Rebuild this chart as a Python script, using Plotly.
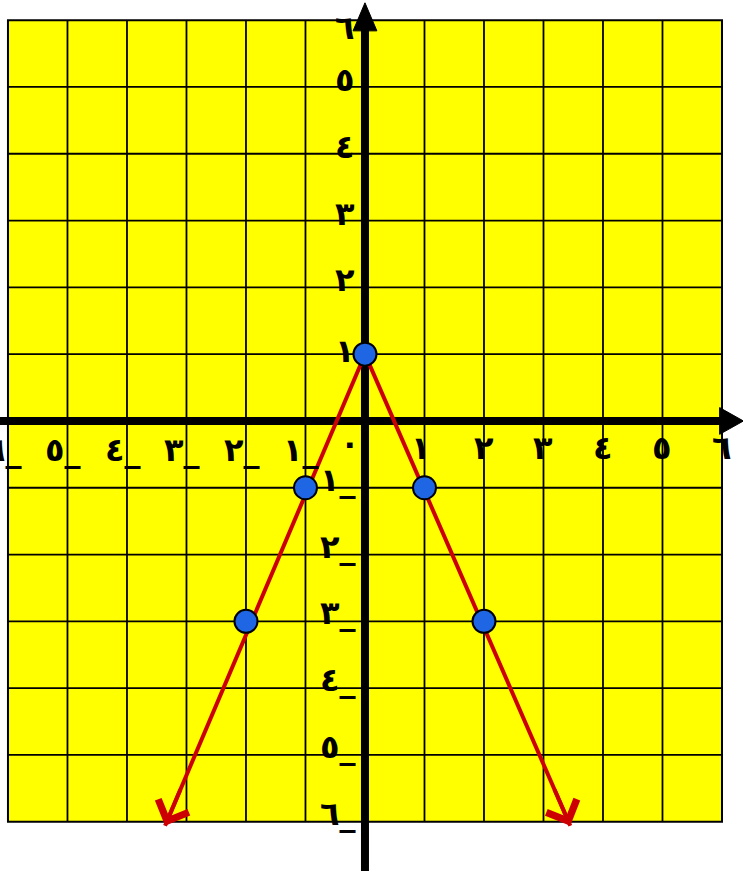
import plotly.graph_objects as go

# ---- data ----
point_x = [-2, -1, 0, 1, 2]
point_y = [-3, -1, 1, -1, -3]
line_x = [-3.36, 0, 3.45]
line_y = [-6.06, 1, -6.06]
ticks = [1, 2, 3, 4, 5, 6]
digits = ["١", "٢", "٣", "٤", "٥", "٦"]
zero_label = "٠"

FONT = dict(family="DejaVu Sans", size=32, color="black", weight="bold")
RED = "#CC0000"

fig = go.Figure()

shapes = []
# yellow board
shapes.append(dict(type="rect", x0=-6, x1=6, y0=-6, y1=6, fillcolor="#FFFF00",
                   line=dict(color="black", width=2), layer="below"))
for k in range(-5, 6):
    shapes.append(dict(type="line", x0=k, x1=k, y0=-6, y1=6,
                       line=dict(color="black", width=1.8), layer="below"))
    shapes.append(dict(type="line", x0=-6, x1=6, y0=k, y1=k,
                       line=dict(color="black", width=1.8), layer="below"))
# axes
shapes.append(dict(type="line", x0=0, x1=0, y0=-6.75, y1=5.9,
                   line=dict(color="black", width=8), layer="below"))
shapes.append(dict(type="line", x0=-6.2, x1=5.98, y0=0, y1=0,
                   line=dict(color="black", width=8), layer="below"))
shapes.append(dict(type="path", path="M -0.2,5.84 L 0,6.26 L 0.2,5.84 Z",
                   fillcolor="black", line=dict(color="black", width=1), layer="below"))
shapes.append(dict(type="path", path="M 5.96,0.2 L 6.36,0 L 5.96,-0.2 Z",
                   fillcolor="black", line=dict(color="black", width=1), layer="below"))

fig.add_trace(go.Scatter(x=line_x, y=line_y, mode="lines",
                         line=dict(color=RED, width=4), hoverinfo="skip"))
fig.add_trace(go.Scatter(x=point_x, y=point_y, mode="markers",
                         marker=dict(size=23, color="#1F66E5",
                                     line=dict(color="black", width=2)),
                         hoverinfo="skip"))

ann = []
# red arrowheads at the line ends
for i in (0, 2):
    tx, ty = line_x[i], line_y[i]
    bx = tx + (line_x[1] - tx) * 0.08
    by = ty + (line_y[1] - ty) * 0.08
    ann.append(dict(x=tx, y=ty, ax=bx, ay=by, axref="x", ayref="y",
                    xref="x", yref="y", text="", showarrow=True,
                    arrowhead=4, arrowsize=1.6, arrowwidth=4, arrowcolor=RED))

# x-axis labels
for k, d in zip(ticks, digits):
    ann.append(dict(x=k, y=0, text=d, showarrow=False, font=FONT,
                    xshift=-3 if k == 1 else 0, yshift=-27))
    ann.append(dict(x=-k, y=0, text=d + "_", showarrow=False, font=FONT,
                    xshift=-4, yshift=-29))
ann.append(dict(x=-0.25, y=0, text=zero_label, showarrow=False, font=FONT, yshift=-22))

# y-axis labels
for k, d in zip(ticks, digits):
    ys = 3 if k == 1 else (-8 if k == 6 else 7)
    ann.append(dict(x=-0.34, y=k, text=d, showarrow=False, font=FONT, yshift=ys))
    ann.append(dict(x=-0.45, y=-k, text=d + "_", showarrow=False, font=FONT, yshift=8))

fig.update_layout(
    width=743, height=871,
    margin=dict(l=0, r=0, t=0, b=0),
    paper_bgcolor="white", plot_bgcolor="white",
    showlegend=False,
    shapes=shapes, annotations=ann,
    xaxis=dict(range=[-6.134, 6.353], visible=False, fixedrange=True),
    yaxis=dict(range=[-6.737, 6.302], visible=False, fixedrange=True),
)

fig.write_html("out.html",
               config={"displayModeBar": False, "staticPlot": True},
               post_script="document.body.style.margin='0';document.body.style.overflow='hidden';")
